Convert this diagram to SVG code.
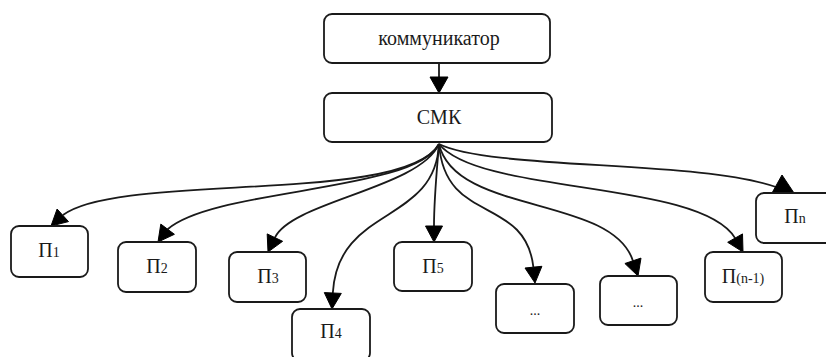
<svg xmlns="http://www.w3.org/2000/svg" width="826" height="357" viewBox="0 0 826 357">
<defs>
<style>
.box{fill:#fff;stroke:#1a1a1a;stroke-width:1.8}
text{font-family:'Liberation Serif','DejaVu Serif',serif;font-size:20px;fill:#1a1a1a;text-anchor:middle}
.sub{font-size:14px}
.edge{fill:none;stroke:#1a1a1a;stroke-width:1.8}
.head{fill:#000;stroke:#000;stroke-width:1;stroke-linejoin:miter}
</style>
</defs>
<g id="edges">
<path class="edge" d="M439,63 L439,77"/><polygon class="head" points="430,77 448,77 439,93"/>
<path class="edge" d="M439,144 C405,205 120,172 63,215"/><polygon class="head" points="57.1,209 68.5,221.6 51,226"/>
<path class="edge" d="M439,144 C415,192 215,188 167.6,229.2"/><polygon class="head" points="160.8,224.1 174.4,234.3 158,242"/>
<path class="edge" d="M439,144 C420,188 292,201.5 274.9,237.6"/><polygon class="head" points="267.2,233.9 282.6,241.3 268,252"/>
<path class="edge" d="M439,144 C435,225 338,205 332.8,293"/><polygon class="head" points="324.3,292.6 341.3,293.4 332,309"/>
<path class="edge" d="M439,144 C436,180 434,200 434,226"/><polygon class="head" points="425.5,226 442.5,226 434,242"/>
<path class="edge" d="M439,144 C445,225 525,195 533.4,267.1"/><polygon class="head" points="525,268 541.9,266.3 535,283"/>
<path class="edge" d="M439,144 C455,215 612,195 632.9,260.8"/><polygon class="head" points="624.9,263.5 641,258.1 638,276"/>
<path class="edge" d="M439,144 C480,195 700,180 735.1,238.1"/><polygon class="head" points="727.7,242.3 742.5,233.9 743,252"/>
<path class="edge" d="M439,144 C490,170 700,160 776,187"/><polygon class="head" points="772,193 782,175 794,193"/>
</g>
<g id="kommunikator"><rect class="box" x="324" y="14" width="226" height="49" rx="8"/><text x="439" y="45">коммуникатор</text></g>
<g id="smk"><rect class="box" x="324" y="93" width="228" height="49" rx="8"/><text x="439" y="124">СМК</text></g>
<g id="p1"><rect class="box" x="11" y="226" width="77" height="51" rx="8"/><text x="49" y="257">П<tspan class="sub">1</tspan></text></g>
<g id="p2"><rect class="box" x="118" y="242" width="78" height="50" rx="8"/><text x="157" y="273">П<tspan class="sub">2</tspan></text></g>
<g id="p3"><rect class="box" x="229" y="252" width="77" height="50" rx="8"/><text x="268" y="283">П<tspan class="sub">3</tspan></text></g>
<g id="p4"><rect class="box" x="292" y="309" width="78" height="52" rx="8"/><text x="331" y="338">П<tspan class="sub">4</tspan></text></g>
<g id="p5"><rect class="box" x="394" y="242" width="78" height="49" rx="8"/><text x="433" y="273">П<tspan class="sub">5</tspan></text></g>
<g id="dots1"><rect class="box" x="496" y="284" width="78" height="49" rx="8"/><text class="sub" x="535" y="315">...</text></g>
<g id="dots2"><rect class="box" x="600" y="276" width="77" height="49" rx="8"/><text class="sub" x="638" y="307">...</text></g>
<g id="pn1"><rect class="box" x="705" y="252" width="77" height="50" rx="8"/><text x="743" y="283">П<tspan class="sub">(n-1)</tspan></text></g>
<g id="pn"><rect class="box" x="756" y="193" width="78" height="50" rx="8"/><text x="795" y="223">П<tspan class="sub">n</tspan></text></g>
</svg>
